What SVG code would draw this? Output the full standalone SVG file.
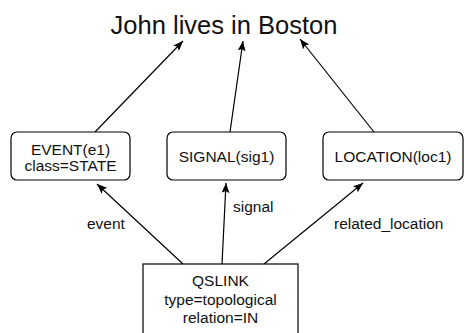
<svg xmlns="http://www.w3.org/2000/svg" width="464" height="333" viewBox="0 0 464 333">
<defs>
<marker id="ah" viewBox="0 0 10 8" refX="10" refY="4" markerWidth="10" markerHeight="8" markerUnits="userSpaceOnUse" orient="auto">
<path d="M0,0 L10,4 L0,8 L2,4 Z" fill="#000"/>
</marker>
</defs>
<style>
text{font-family:"Liberation Sans",Arial,sans-serif;fill:#111;text-anchor:middle}
.box{fill:#fff;stroke:#000;stroke-width:1.2}
.t{font-size:15.5px}
.l{font-size:15.5px;text-anchor:start}
.c line{stroke:#000;stroke-width:1.2;marker-end:url(#ah)}
</style>
<rect width="464" height="333" fill="#fff"/>
<g id="title"><text x="224" y="33.5" font-size="25.5">John lives in Boston</text></g>
<g class="c" id="connectors">
<line x1="95" y1="132" x2="183" y2="41"/>
<line x1="230" y1="132" x2="243" y2="41"/>
<line x1="374" y1="132" x2="300" y2="39"/>
<line x1="183" y1="264" x2="97" y2="184"/>
<line x1="222" y1="264" x2="226" y2="183"/>
<line x1="264" y1="264" x2="363" y2="183"/>
</g>
<g id="labels">
<text class="l" x="87" y="229">event</text>
<text class="l" x="233" y="212">signal</text>
<text class="l" x="334" y="229">related_location</text>
</g>
<g id="event">
<rect class="box" x="11" y="132" width="119" height="48" rx="6"/>
<text class="t" x="70.5" y="154.5">EVENT(e1)</text>
<text class="t" x="70.5" y="171">class=STATE</text>
</g>
<g id="signal">
<rect class="box" x="167" y="132" width="119" height="48" rx="6"/>
<text class="t" x="226.5" y="161.5">SIGNAL(sig1)</text>
</g>
<g id="location">
<rect class="box" x="323" y="132" width="140" height="48" rx="6"/>
<text class="t" x="393" y="161.5">LOCATION(loc1)</text>
</g>
<g id="qslink">
<rect class="box" x="143" y="264" width="155" height="80"/>
<text class="t" x="220.5" y="286">QSLINK</text>
<text class="t" x="220.5" y="304.5">type=topological</text>
<text class="t" x="220.5" y="323">relation=IN</text>
</g>
</svg>
